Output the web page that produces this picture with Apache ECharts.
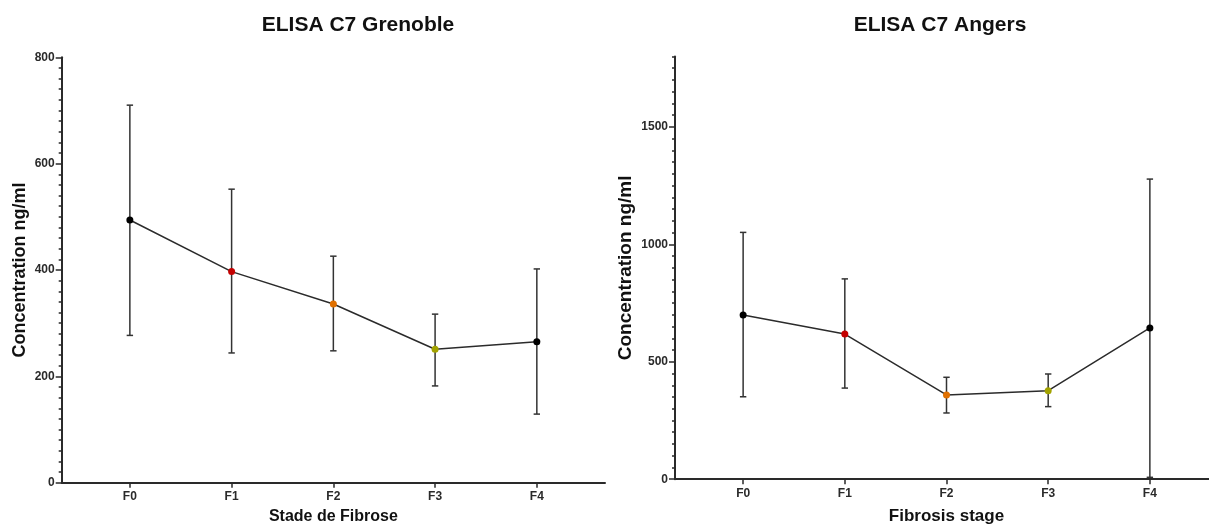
<!DOCTYPE html>
<html>
<head>
<meta charset="utf-8">
<script src="https://cdn.jsdelivr.net/npm/echarts@6/dist/echarts.min.js"></script>
<style>
html,body{margin:0;padding:0;background:#fff;}
#c{width:1209px;height:526px;}
</style>
</head>
<body>
<div id="c"></div>
<script>
const categories = ['F0', 'F1', 'F2', 'F3', 'F4'];
const grenobleMean = [494, 397, 336, 251, 265];
const grenobleLow = [277, 244, 248, 182, 129];
const grenobleHigh = [710, 552, 426, 317, 402];
const angersMean = [699, 618, 359, 377, 644];
const angersLow = [351, 388, 282, 309, 8];
const angersHigh = [1051, 853, 434, 448, 1278];
const pointColors = ['#000000', '#c40000', '#e07000', '#a3a300', '#000000'];
const yTicksGrenoble = [0, 200, 400, 600, 800];
const yTicksAngers = [0, 500, 1000, 1500];
const titles = ['ELISA C7 Grenoble', 'ELISA C7 Angers'];
const xTitles = ['Stade de Fibrose', 'Fibrosis stage'];
const yTitle = 'Concentration ng/ml';

const FONT = '"Liberation Sans", Arial, Helvetica, sans-serif';
const INK = '#2a2a2a';
const catIdx = categories.map((c, i) => i);

function xAxisCfg(gridIndex, name, nameSize, nameGap) {
  return {
    type: 'value', gridIndex, min: -0.67, max: 4.67,
    splitLine: { show: false },
    axisLine: { show: true, onZero: false, lineStyle: { color: INK, width: 2 } },
    axisTick: { show: true, customValues: catIdx, length: 5, lineStyle: { color: INK, width: 1.5 } },
    axisLabel: { show: true, customValues: catIdx, formatter: v => categories[Math.round(v)],
      fontFamily: FONT, fontWeight: 'bold', fontSize: 12, color: INK, margin: 8 },
    name, nameLocation: 'middle', nameGap,
    nameTextStyle: { fontFamily: FONT, fontWeight: 'bold', fontSize: nameSize, color: '#111' }
  };
}
function yAxisMinor(gridIndex, max, step, labels, nameSize, nameGap) {
  return {
    type: 'value', gridIndex, min: 0, max, interval: step, position: 'left',
    splitLine: { show: false },
    axisLine: { show: true, onZero: false, lineStyle: { color: INK, width: 2 } },
    axisTick: { show: true, length: 3, lineStyle: { color: INK, width: 1.5 } },
    axisLabel: { show: true, customValues: labels, formatter: v => String(v), fontFamily: FONT, fontWeight: 'bold',
      fontSize: 12, color: INK, margin: 7 },
    name: yTitle, nameLocation: 'middle', nameGap, nameRotate: 90,
    nameTextStyle: { fontFamily: FONT, fontWeight: 'bold', fontSize: nameSize, color: '#111' }
  };
}
function yAxisMajor(gridIndex, max, labels) {
  return {
    type: 'value', gridIndex, min: 0, max, position: 'left', offset: 0,
    splitLine: { show: false },
    axisLine: { show: false, onZero: false },
    axisTick: { show: true, customValues: labels, length: 6, lineStyle: { color: INK, width: 1.5 } },
    axisLabel: { show: false }
  };
}
function errSeries(xi, yi, low, high) {
  return {
    type: 'custom', xAxisIndex: xi, yAxisIndex: yi, z: 2, silent: true,
    encode: { x: 0, y: [1, 2] },
    data: catIdx.map(i => [i, low[i], high[i]]),
    renderItem: function (params, api) {
      const x = api.value(0);
      const top = api.coord([x, api.value(2)]);
      const bot = api.coord([x, api.value(1)]);
      const hw = 3.2;
      const st = { stroke: '#333', lineWidth: 1.5, fill: null };
      return { type: 'group', children: [
        { type: 'line', shape: { x1: top[0], y1: top[1], x2: bot[0], y2: bot[1] }, style: st },
        { type: 'line', shape: { x1: top[0] - hw, y1: top[1], x2: top[0] + hw, y2: top[1] }, style: st },
        { type: 'line', shape: { x1: bot[0] - hw, y1: bot[1], x2: bot[0] + hw, y2: bot[1] }, style: st }
      ]};
    }
  };
}
function meanSeries(xi, yi, mean) {
  return {
    type: 'line', xAxisIndex: xi, yAxisIndex: yi, z: 3, silent: true,
    symbol: 'circle', symbolSize: 7,
    lineStyle: { color: '#2b2b2b', width: 1.5 },
    data: catIdx.map(i => ({ value: [i, mean[i]], itemStyle: { color: pointColors[i] } }))
  };
}

const chart = echarts.init(document.getElementById('c'), null, { renderer: 'canvas' });
chart.setOption({
  backgroundColor: '#ffffff',
  animation: false,
  grid: [
    { left: 61.7, top: 57.3, width: 543.3, height: 425.4, outerBoundsMode: 'none', containLabel: false },
    { left: 675, top: 56.5, width: 543, height: 422.7, outerBoundsMode: 'none', containLabel: false }
  ],
  xAxis: [xAxisCfg(0, xTitles[0], 16, 26), xAxisCfg(1, xTitles[1], 17, 29)],
  yAxis: [
    yAxisMinor(0, 800, 20, yTicksGrenoble, 18, 33),
    yAxisMinor(1, 1800, 50, yTicksAngers, 19, 40),
    yAxisMajor(0, 800, yTicksGrenoble),
    yAxisMajor(1, 1800, yTicksAngers)
  ],
  graphic: [
    { type: 'text', x: 358, y: 25, style: { text: titles[0], font: 'bold 21px ' + FONT, fill: '#111', textAlign: 'center', textVerticalAlign: 'middle' } },
    { type: 'text', x: 940, y: 25, style: { text: titles[1], font: 'bold 21px ' + FONT, fill: '#111', textAlign: 'center', textVerticalAlign: 'middle' } }
  ],
  series: [
    errSeries(0, 0, grenobleLow, grenobleHigh),
    meanSeries(0, 0, grenobleMean),
    errSeries(1, 1, angersLow, angersHigh),
    meanSeries(1, 1, angersMean)
  ]
});
</script>
</body>
</html>
